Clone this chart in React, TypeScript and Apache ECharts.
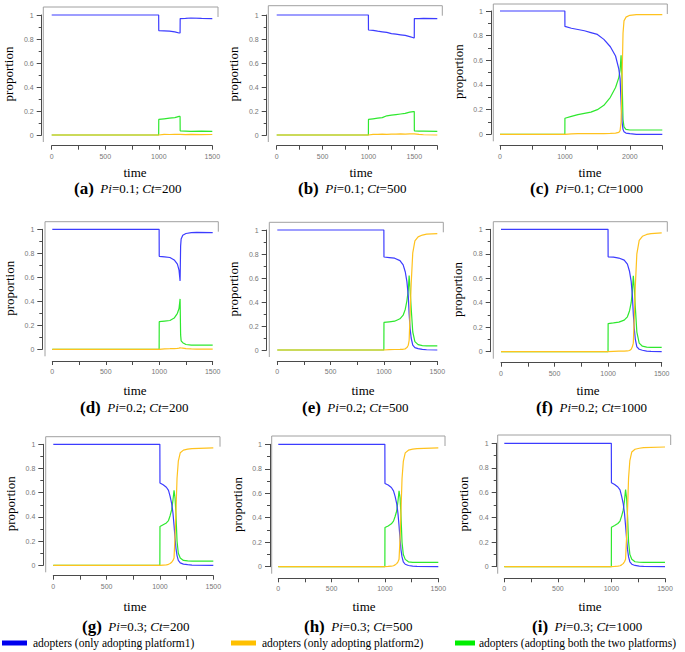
import React, { useEffect, useRef } from 'react';
import * as echarts from 'echarts';

// ---------------- data ----------------
// (a) Pi=0.1; Ct=200
const tA = [0, 999, 1000, 1050, 1100, 1150, 1190, 1199, 1200, 1250, 1300, 1400, 1500];
const blueA = [1, 1, 0.87, 0.868, 0.865, 0.86, 0.85, 0.85, 0.97, 0.972, 0.975, 0.972, 0.97];
const greenA = [0, 0, 0.13, 0.135, 0.14, 0.145, 0.155, 0.155, 0.035, 0.033, 0.03, 0.032, 0.03];
const orangeA = [0, 0, 0.003, 0.005, 0.004, 0.006, 0.005, 0.005, 0.004, 0.003, 0.005, 0.003, 0.004];

// (b) Pi=0.1; Ct=500
const tB = [0, 999, 1000, 1050, 1100, 1150, 1200, 1250, 1300, 1350, 1400, 1450, 1490, 1499, 1500, 1550, 1600, 1750];
const blueB = [1, 1, 0.875, 0.872, 0.865, 0.86, 0.855, 0.845, 0.84, 0.835, 0.83, 0.82, 0.81, 0.81, 0.97, 0.97, 0.972, 0.97];
const greenB = [0, 0, 0.13, 0.135, 0.14, 0.145, 0.16, 0.165, 0.17, 0.175, 0.18, 0.19, 0.195, 0.195, 0.035, 0.033, 0.033, 0.03];
const orangeB = [0, 0, 0.003, 0.005, 0.006, 0.007, 0.006, 0.008, 0.007, 0.009, 0.008, 0.01, 0.01, 0.01, 0.008, 0.005, 0.002, 0];

// (c) Pi=0.1; Ct=1000
const tC = [0, 999, 1000, 1100, 1200, 1300, 1400, 1500, 1600, 1700, 1780, 1830, 1850, 1865, 1880, 1895, 1910, 1940, 2000, 2100, 2500];
const blueC = [1, 1, 0.875, 0.86, 0.85, 0.84, 0.825, 0.81, 0.77, 0.71, 0.635, 0.53, 0.45, 0.26, 0.1, 0.04, 0.02, 0.01, 0.005, 0, 0];
const greenC = [0, 0, 0.13, 0.145, 0.16, 0.17, 0.18, 0.2, 0.235, 0.3, 0.38, 0.46, 0.52, 0.64, 0.45, 0.12, 0.06, 0.04, 0.035, 0.035, 0.035];
const orangeC = [0, 0, 0.003, 0.004, 0.005, 0.005, 0.005, 0.005, 0.006, 0.008, 0.01, 0.015, 0.03, 0.1, 0.45, 0.82, 0.92, 0.95, 0.965, 0.97, 0.97];

// (d) Pi=0.2; Ct=200
const tD = [0, 999, 1000, 1050, 1100, 1140, 1170, 1185, 1195, 1200, 1205, 1220, 1250, 1300, 1350, 1500];
const blueD = [1, 1, 0.775, 0.77, 0.765, 0.745, 0.71, 0.66, 0.57, 0.86, 0.92, 0.95, 0.965, 0.972, 0.975, 0.972];
const greenD = [0, 0, 0.23, 0.235, 0.24, 0.26, 0.3, 0.34, 0.42, 0.12, 0.07, 0.055, 0.04, 0.035, 0.035, 0.035];
const orangeD = [0, 0, 0.003, 0.004, 0.005, 0.006, 0.008, 0.01, 0.012, 0.012, 0.011, 0.01, 0.006, 0.003, 0.002, 0.002];

// (e) Pi=0.2; Ct=500
const tE = [0, 999, 1000, 1050, 1100, 1150, 1180, 1200, 1215, 1228, 1236, 1245, 1255, 1270, 1290, 1320, 1360, 1400, 1500];
const blueE = [1, 1, 0.775, 0.77, 0.765, 0.745, 0.71, 0.65, 0.57, 0.45, 0.3, 0.18, 0.1, 0.04, 0.02, 0.012, 0.005, 0.002, 0];
const greenE = [0, 0, 0.23, 0.235, 0.24, 0.26, 0.29, 0.34, 0.41, 0.5, 0.62, 0.5, 0.35, 0.15, 0.07, 0.045, 0.037, 0.035, 0.035];
const orangeE = [0, 0, 0.002, 0.003, 0.004, 0.005, 0.006, 0.01, 0.02, 0.04, 0.08, 0.3, 0.55, 0.81, 0.91, 0.943, 0.958, 0.965, 0.97];

// (f) Pi=0.2; Ct=1000
const tF = [0, 999, 1000, 1050, 1100, 1150, 1180, 1200, 1215, 1226, 1235, 1244, 1254, 1268, 1290, 1320, 1360, 1400, 1500];
const blueF = [1, 1, 0.775, 0.772, 0.765, 0.748, 0.715, 0.655, 0.575, 0.46, 0.31, 0.19, 0.1, 0.04, 0.02, 0.012, 0.005, 0.002, 0];
const greenF = [0, 0, 0.23, 0.235, 0.242, 0.258, 0.285, 0.335, 0.4, 0.49, 0.62, 0.52, 0.36, 0.16, 0.07, 0.045, 0.037, 0.035, 0.035];
const orangeF = [0, 0, 0.002, 0.003, 0.004, 0.005, 0.006, 0.01, 0.02, 0.04, 0.07, 0.28, 0.54, 0.8, 0.91, 0.943, 0.958, 0.965, 0.97];

// (g) Pi=0.3; Ct=200
const tG = [0, 999, 1000, 1030, 1060, 1080, 1095, 1110, 1122, 1132, 1142, 1150, 1160, 1172, 1190, 1220, 1260, 1300, 1500];
const blueG = [1, 1, 0.68, 0.665, 0.645, 0.62, 0.57, 0.51, 0.43, 0.33, 0.22, 0.14, 0.08, 0.04, 0.02, 0.01, 0.005, 0.002, 0];
const greenG = [0, 0, 0.32, 0.335, 0.35, 0.37, 0.41, 0.46, 0.54, 0.62, 0.55, 0.42, 0.2, 0.1, 0.06, 0.04, 0.036, 0.035, 0.035];
const orangeG = [0, 0, 0.001, 0.002, 0.004, 0.008, 0.015, 0.025, 0.04, 0.06, 0.25, 0.45, 0.72, 0.86, 0.93, 0.952, 0.96, 0.965, 0.97];

// (h) Pi=0.3; Ct=500
const tH = [0, 999, 1000, 1030, 1060, 1080, 1095, 1110, 1122, 1132, 1142, 1150, 1160, 1172, 1190, 1220, 1260, 1300, 1500];
const blueH = [1, 1, 0.68, 0.667, 0.647, 0.62, 0.575, 0.515, 0.435, 0.335, 0.22, 0.14, 0.08, 0.04, 0.02, 0.01, 0.005, 0.002, 0];
const greenH = [0, 0, 0.32, 0.333, 0.35, 0.372, 0.41, 0.455, 0.535, 0.62, 0.56, 0.42, 0.2, 0.1, 0.06, 0.04, 0.036, 0.035, 0.035];
const orangeH = [0, 0, 0.001, 0.002, 0.004, 0.008, 0.015, 0.025, 0.04, 0.06, 0.24, 0.45, 0.72, 0.86, 0.93, 0.952, 0.96, 0.965, 0.97];

// (i) Pi=0.3; Ct=1000
const tI = [0, 999, 1000, 1030, 1060, 1080, 1095, 1110, 1122, 1132, 1142, 1150, 1160, 1172, 1190, 1220, 1260, 1300, 1500];
const blueI = [1, 1, 0.68, 0.666, 0.646, 0.622, 0.572, 0.512, 0.432, 0.332, 0.222, 0.14, 0.08, 0.04, 0.02, 0.01, 0.005, 0.002, 0];
const greenI = [0, 0, 0.32, 0.334, 0.35, 0.37, 0.41, 0.458, 0.538, 0.625, 0.55, 0.42, 0.2, 0.1, 0.06, 0.04, 0.036, 0.035, 0.035];
const orangeI = [0, 0, 0.001, 0.002, 0.004, 0.008, 0.015, 0.025, 0.04, 0.06, 0.25, 0.45, 0.72, 0.86, 0.93, 0.952, 0.96, 0.965, 0.97];

const timeArrays = [tA, tB, tC, tD, tE, tF, tG, tH, tI];
const blueArrays = [blueA, blueB, blueC, blueD, blueE, blueF, blueG, blueH, blueI];
const orangeArrays = [orangeA, orangeB, orangeC, orangeD, orangeE, orangeF, orangeG, orangeH, orangeI];
const greenArrays = [greenA, greenB, greenC, greenD, greenE, greenF, greenG, greenH, greenI];

const xMaxes = [1500, 1750, 2500, 1500, 1500, 1500, 1500, 1500, 1500];
const xTickSteps = [250, 250, 500, 250, 250, 250, 250, 250, 250];
const xLabelSteps = [500, 500, 1000, 500, 500, 500, 500, 500, 500];

const captionLetters = ['(a)', '(b)', '(c)', '(d)', '(e)', '(f)', '(g)', '(h)', '(i)'];
const piValues = ['0.1', '0.1', '0.1', '0.2', '0.2', '0.2', '0.3', '0.3', '0.3'];
const ctValues = ['200', '500', '1000', '200', '500', '1000', '200', '500', '1000'];
const xAxisTitle = 'time';
const yAxisTitle = 'proportion';

const seriesNames = [
  'adopters (only adopting platform1)',
  'adopters (only adopting platform2)',
  'adopters (adopting both the two platforms)',
];

// ---------------- layout ----------------
// gl/gr/gt/gb: plot area; yOff/xOff: axis offsets; fx0/fx1/fy: frame; cx/cy: caption; tx/ty: "time" label
const layout = [
  { gl: 51.7, gr: 212.3, gt: 15, gb: 135, yOff: 10, xOff: 10.7, fx0: 43.3, fx1: 218, fy: 7, cx: 74, cy: 188.5, tx: 135, ty: 172 },
  { gl: 276.7, gr: 437.3, gt: 15, gb: 135, yOff: 10, xOff: 10.7, fx0: 268.3, fx1: 442.3, fy: 5.7, cx: 298, cy: 188.5, tx: 361, ty: 172 },
  { gl: 500, gr: 662.3, gt: 11, gb: 134.3, yOff: 9, xOff: 11.4, fx0: 493.3, fx1: 667.3, fy: 4, cx: 530, cy: 188.5, tx: 590, ty: 172 },
  { gl: 52.3, gr: 212.7, gt: 229.3, gb: 349.3, yOff: 10, xOff: 11.7, fx0: 45, fx1: 218.3, fy: 221.7, cx: 80, cy: 407.5, tx: 135, ty: 390 },
  { gl: 277.3, gr: 437.3, gt: 230, gb: 350, yOff: 10.6, xOff: 11, fx0: 269.3, fx1: 443.3, fy: 222.3, cx: 302, cy: 407.5, tx: 363, ty: 390 },
  { gl: 501, gr: 661.7, gt: 229.3, gb: 351.7, yOff: 10.3, xOff: 11, fx0: 493.3, fx1: 667.3, fy: 221.7, cx: 536, cy: 407.5, tx: 588, ty: 390 },
  { gl: 53.3, gr: 213.3, gt: 444.3, gb: 565.3, yOff: 10, xOff: 10.4, fx0: 45.7, fx1: 220, fy: 436.7, cx: 82, cy: 626.5, tx: 135, ty: 606 },
  { gl: 278.3, gr: 438.3, gt: 444.3, gb: 566.7, yOff: 8.3, xOff: 11.6, fx0: 271.7, fx1: 445, fy: 436, cx: 304, cy: 626.5, tx: 364, ty: 606 },
  { gl: 504.3, gr: 665, gt: 443.3, gb: 566.7, yOff: 7.6, xOff: 11.6, fx0: 497.7, fx1: 670.7, fy: 435, cx: 532, cy: 626.5, tx: 590, ty: 606 },
];

const SERIF = 'Liberation Serif';
const SANS = 'Liberation Sans';
const BLUE = '#3c3cff';
const ORANGE = '#ffc21e';
const GREEN = '#2ee82e';
const AXIS = '#4a4a4a';
const FRAME = '#a0a0a0';

function zip(t: number[], v: number[]) {
  return t.map((x, i) => [x, v[i]]);
}

export default function App() {
  const ref = useRef<HTMLDivElement>(null);
  useEffect(() => {
    document.body.style.margin = '0';
    const chart = echarts.init(ref.current!, null, { renderer: 'svg' });

    const grids: any[] = [];
    const xAxes: any[] = [];
    const yAxes: any[] = [];
    const series: any[] = [];
    const graphics: any[] = [];

    layout.forEach((L, i) => {
      grids.push({ left: L.gl, top: L.gt, width: L.gr - L.gl, height: L.gb - L.gt, containLabel: false });
      const labStep = xLabelSteps[i];
      xAxes.push({
        gridIndex: i,
        type: 'value',
        min: 0,
        max: xMaxes[i],
        interval: xTickSteps[i],
        offset: L.xOff,
        axisLine: { show: true, onZero: false, lineStyle: { color: AXIS, width: 1 } },
        axisTick: { show: true, length: 4, lineStyle: { color: AXIS } },
        axisLabel: {
          show: true,
          fontSize: 7,
          color: '#777',
          fontFamily: SANS,
          margin: 7,
          showMaxLabel: true,
          formatter: (v: number) => (Math.round(v) % labStep === 0 ? String(Math.round(v)) : ''),
        },
        splitLine: { show: false },
      });
      yAxes.push({
        gridIndex: i,
        type: 'value',
        min: 0,
        max: 1,
        interval: 0.2,
        offset: L.yOff,
        axisLine: { show: true, onZero: false, lineStyle: { color: AXIS, width: 1 } },
        axisTick: { show: true, length: 5, lineStyle: { color: AXIS } },
        minorTick: { show: true, splitNumber: 2, length: 3, lineStyle: { color: AXIS } },
        axisLabel: {
          show: true,
          fontSize: 7,
          color: '#777',
          fontFamily: SANS,
          margin: 8,
          formatter: (v: number) => String(Math.round(v * 10) / 10),
        },
        splitLine: { show: false },
      });
      const t = timeArrays[i];
      const common = {
        type: 'line',
        xAxisIndex: i,
        yAxisIndex: i,
        showSymbol: false,
        symbol: 'none',
        silent: true,
        clip: false,
      };
      series.push({ ...common, name: seriesNames[2], data: zip(t, greenArrays[i]), lineStyle: { color: GREEN, width: 1.2 }, itemStyle: { color: GREEN } });
      series.push({ ...common, name: seriesNames[0], data: zip(t, blueArrays[i]), lineStyle: { color: BLUE, width: 1.2 }, itemStyle: { color: BLUE } });
      series.push({ ...common, name: seriesNames[1], data: zip(t, orangeArrays[i]), lineStyle: { color: ORANGE, width: 1.2 }, itemStyle: { color: ORANGE } });

      // plot frame (top edge, left edge, small right stub)
      graphics.push({ type: 'line', shape: { x1: L.fx0, y1: L.fy, x2: L.fx1, y2: L.fy }, style: { stroke: FRAME, lineWidth: 1 }, silent: true });
      graphics.push({ type: 'line', shape: { x1: L.fx0, y1: L.fy, x2: L.fx0, y2: L.gb + 7 }, style: { stroke: FRAME, lineWidth: 1 }, silent: true });
      graphics.push({ type: 'line', shape: { x1: L.fx1, y1: L.fy, x2: L.fx1, y2: L.fy + 10 }, style: { stroke: FRAME, lineWidth: 1 }, silent: true });

      // axis titles
      graphics.push({
        type: 'text',
        x: L.tx,
        y: L.ty,
        silent: true,
        style: { text: xAxisTitle, fontFamily: SERIF, fontSize: 13, fontWeight: 'normal', fill: '#000', align: 'center', verticalAlign: 'middle' },
      });
      graphics.push({
        type: 'text',
        x: L.gl - L.yOff - 33,
        y: (L.gt + L.gb) / 2 - 1,
        rotation: Math.PI / 2,
        silent: true,
        style: { text: yAxisTitle, fontFamily: SERIF, fontSize: 13, fontWeight: 'normal', fill: '#000', align: 'center', verticalAlign: 'middle' },
      });

      // caption
      graphics.push({
        type: 'text',
        x: L.cx,
        y: L.cy,
        silent: true,
        style: {
          text: `{b|${captionLetters[i]}}{n|  }{i|Pi}{n|=${piValues[i]}; }{i|Ct}{n|=${ctValues[i]}}`,
          align: 'left',
          verticalAlign: 'middle',
          fontFamily: SERIF,
          fontSize: 13,
          fill: '#000',
          rich: {
            b: { fontFamily: SERIF, fontSize: 17, fontWeight: 'bold', fill: '#000', lineHeight: 12 },
            i: { fontFamily: SERIF, fontSize: 13, fontStyle: 'italic', fill: '#000', lineHeight: 12 },
            n: { fontFamily: SERIF, fontSize: 13, fill: '#000', lineHeight: 12 },
          },
        },
      });
    });

    // legend
    const legendColors = ['#0000ee', '#ffc000', '#00ee00'];
    const legendRectX = [2, 231, 455];
    const legendRectW = [25, 25, 20];
    const legendTextX = [33, 262, 479];
    legendColors.forEach((c, k) => {
      graphics.push({ type: 'rect', shape: { x: legendRectX[k], y: 640.5, width: legendRectW[k], height: 5 }, style: { fill: c }, silent: true });
      graphics.push({
        type: 'text',
        x: legendTextX[k],
        y: 643,
        silent: true,
        style: { text: seriesNames[k], fontFamily: SERIF, fontSize: 11.5, fill: '#000', align: 'left', verticalAlign: 'middle' },
      });
    });

    chart.setOption({
      animation: false,
      backgroundColor: '#fff',
      grid: grids,
      xAxis: xAxes,
      yAxis: yAxes,
      series,
      graphic: graphics,
    });
    return () => chart.dispose();
  }, []);
  return <div ref={ref} style={{ width: 685, height: 652 }} />;
}
